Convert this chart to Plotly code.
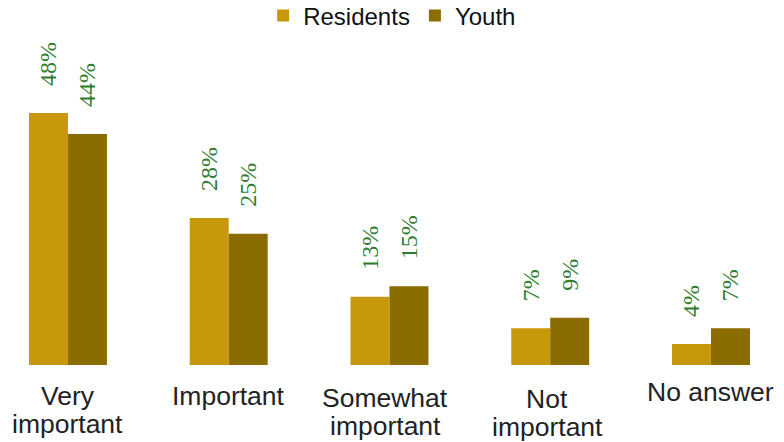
import plotly.graph_objects as go

categories = ["Very<br>important", "Important", "Somewhat<br>important", "Not<br>important", "No answer"]
residents = [48, 28, 13, 7, 4]
youth = [44, 25, 15, 9, 7]

label_font = dict(family="Liberation Serif", size=24, color="#2E7D32")
pad = "\u00a0" * 4

fig = go.Figure()
fig.add_trace(go.Bar(
    name="Residents", x=categories, y=residents,
    marker_color="#C8980C", marker_line_width=0,
    text=[f"{pad}{v}%" for v in residents], textposition="outside", textangle=-90,
    textfont=label_font, cliponaxis=False, constraintext="none",
))
fig.add_trace(go.Bar(
    name="Youth", x=categories, y=youth,
    marker_color="#8A6C00", marker_line_width=0,
    text=[f"{pad}{v}%" for v in youth], textposition="outside", textangle=-90,
    textfont=label_font, cliponaxis=False, constraintext="none",
))

# category labels drawn line by line (tighter line spacing than default tick labels)
line_shifts = [[-31, -59], [-31], [-33, -61], [-34, -62], [-27]]
x_shifts = [0, 0, -4, -3, 0]
for cat, shifts, xs in zip(categories, line_shifts, x_shifts):
    for line, ys in zip(cat.split("<br>"), shifts):
        fig.add_annotation(x=cat, y=0, xref="x", yref="paper", text=line,
                           showarrow=False, yanchor="middle", xanchor="center",
                           yshift=ys, xshift=xs,
                           font=dict(family="Liberation Sans", size=26.5, color="#222222"))

fig.update_layout(
    width=784, height=442,
    barmode="group", bargap=0.515, bargroupgap=0,
    margin=dict(l=0, r=0, t=42, b=85, autoexpand=False),
    paper_bgcolor="white", plot_bgcolor="white",
    font=dict(family="Liberation Sans", size=22, color="#222222"),
    legend=dict(orientation="h", x=0.49, xanchor="center", y=0.982, yanchor="middle",
                yref="container", font=dict(size=24, color="#111111"),
                traceorder="normal", itemwidth=30, tracegroupgap=0),
    xaxis=dict(range=[-0.373, 4.504], showgrid=False, showline=False, ticks="",
               showticklabels=False),
    yaxis=dict(range=[0, 60], visible=False),
    showlegend=True,
)
fig.write_html("out.html")
